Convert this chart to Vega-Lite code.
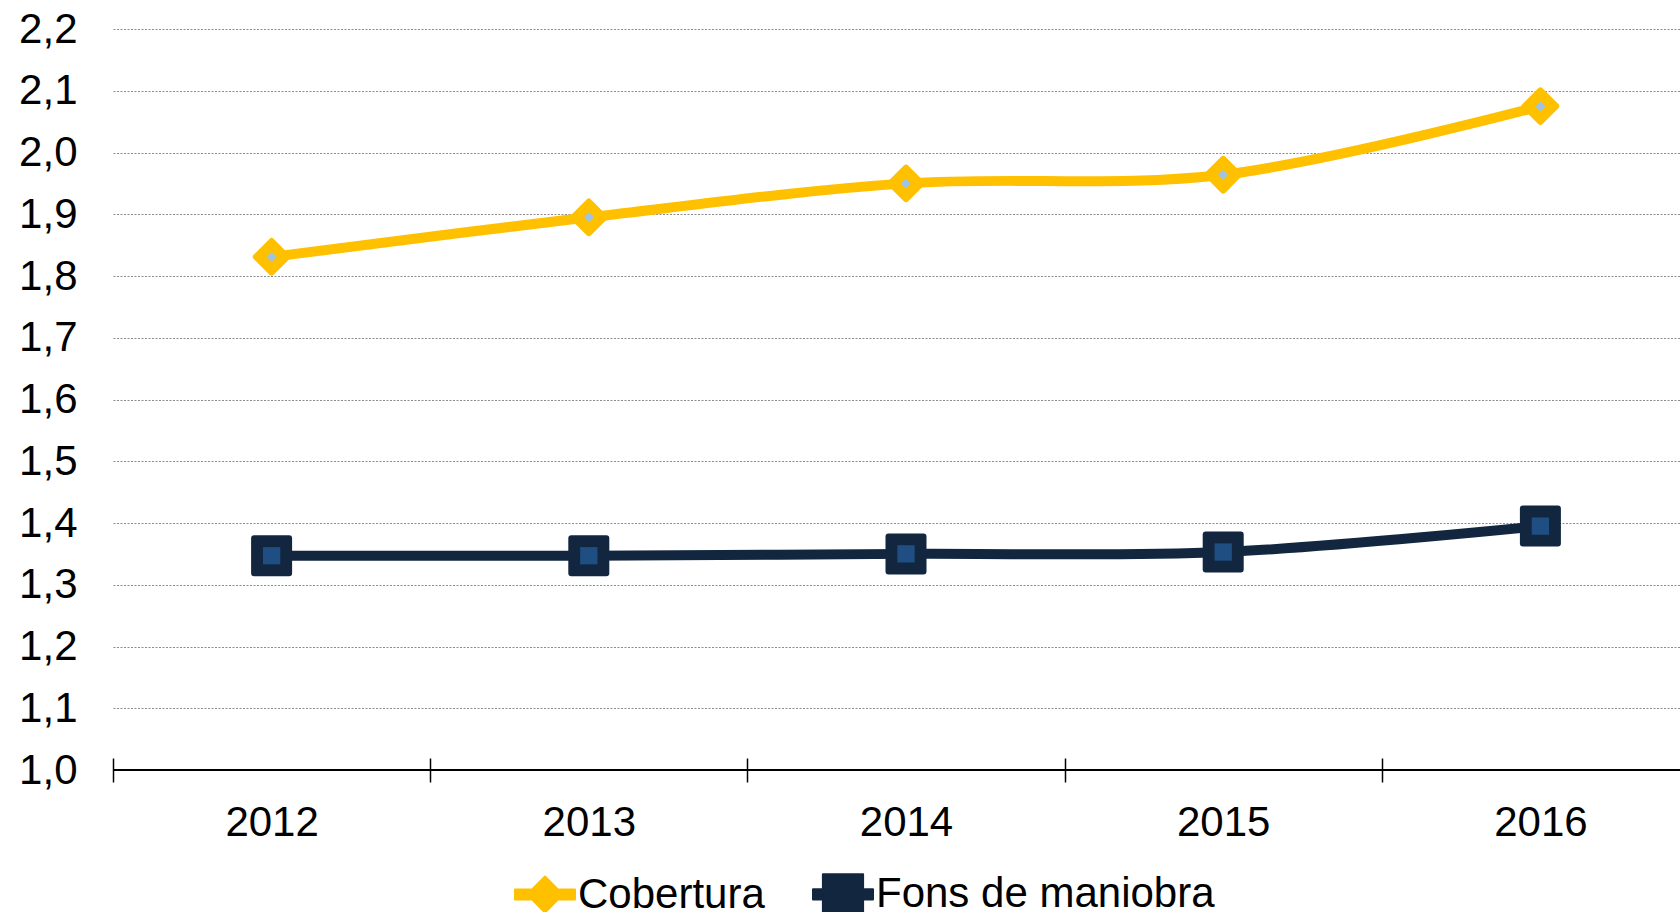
{
  "$schema": "https://vega.github.io/schema/vega-lite/v6.json",
  "autosize": {"type": "none"},
  "padding": {"left": 113, "top": 29, "right": 0, "bottom": 142},
  "width": 1567,
  "height": 741,
  "background": "white",
  "config": {
    "view": {"stroke": null},
    "font": "Liberation Sans",
    "axis": {"labelFont": "Liberation Sans", "labelColor": "black", "labelFontSize": 42},
    "legend": {"labelFont": "Liberation Sans", "labelColor": "black", "labelFontSize": 42}
  },
  "data": {
    "values": [
      {"year": "2012", "series": "Cobertura", "value": 1.831},
      {"year": "2013", "series": "Cobertura", "value": 1.895},
      {"year": "2014", "series": "Cobertura", "value": 1.950},
      {"year": "2015", "series": "Cobertura", "value": 1.964},
      {"year": "2016", "series": "Cobertura", "value": 2.075},
      {"year": "2012", "series": "Fons de maniobra", "value": 1.347},
      {"year": "2013", "series": "Fons de maniobra", "value": 1.347},
      {"year": "2014", "series": "Fons de maniobra", "value": 1.350},
      {"year": "2015", "series": "Fons de maniobra", "value": 1.353},
      {"year": "2016", "series": "Fons de maniobra", "value": 1.395}
    ]
  },
  "encoding": {
    "x": {
      "field": "year", "type": "ordinal",
      "scale": {"type": "band", "range": [0, 1586], "paddingInner": 0, "paddingOuter": 0},
      "axis": {
        "title": null, "domain": false, "offset": -12, "tickSize": 24, "tickColor": "black",
        "tickWidth": 1.5, "tickBand": "extent", "labelPadding": 20, "labelAngle": 0, "grid": false
      }
    },
    "y": {
      "field": "value", "type": "quantitative",
      "scale": {"domain": [1.0, 2.2], "nice": false, "zero": false},
      "axis": {
        "title": null, "domain": false, "ticks": false, "labelPadding": 36,
        "values": [1.0, 1.1, 1.2, 1.3, 1.4, 1.5, 1.6, 1.7, 1.8, 1.9, 2.0, 2.1, 2.2],
        "labelExpr": "replace(format(datum.value, '.1f'), '.', ',')",
        "grid": true, "gridColor": "#8c8c8c", "gridDash": [2, 1.5], "gridWidth": 1.2
      }
    }
  },
  "layer": [
    {
      "mark": {"type": "rule", "color": "black", "strokeWidth": 2},
      "encoding": {"y": {"datum": 1.0}, "x": {"value": 0}, "x2": {"value": 1567}}
    },
    {
      "mark": {"type": "line", "strokeWidth": 10, "interpolate": "catmull-rom", "strokeCap": "round"},
      "encoding": {
        "color": {
          "field": "series", "type": "nominal",
          "scale": {"domain": ["Cobertura", "Fons de maniobra"], "range": ["#FFC000", "#12263F"]},
          "legend": {
            "title": null, "orient": "none", "direction": "horizontal",
            "legendX": 401, "legendY": 834, "padding": 0, "labelLimit": 0,
            "symbolSize": 3600, "labelOffset": 2, "columnPadding": 47,
            "encode": {
              "symbols": {
                "update": {
                  "shape": {"signal": "datum.value === 'Cobertura' ? 'M-1,-0.17H-0.43L0,-0.6L0.43,-0.17H1V0.17H0.43L0,0.6L-0.43,0.17H-1Z' : 'M-1,-0.17H-0.67V-0.67H0.67V-0.17H1V0.17H0.67V0.67H-0.67V0.17H-1Z'"},
                  "fill": {"signal": "datum.value === 'Cobertura' ? '#FFC000' : '#12263F'"},
                  "stroke": {"signal": "datum.value === 'Cobertura' ? '#FFC000' : '#12263F'"},
                  "strokeWidth": {"value": 2},
                  "strokeJoin": {"value": "round"}
                }
              }
            }
          }
        }
      }
    },
    {
      "transform": [{"filter": "datum.series === 'Cobertura'"}],
      "mark": {"type": "point", "shape": "diamond", "size": 1000, "filled": true, "opacity": 1, "fill": "#FFC000", "stroke": "#FFC000", "strokeWidth": 6, "strokeJoin": "round"}
    },
    {
      "transform": [{"filter": "datum.series === 'Cobertura'"}],
      "mark": {"type": "point", "shape": "diamond", "size": 100, "filled": true, "opacity": 1, "fill": "#9DC3E6", "strokeWidth": 0}
    },
    {
      "transform": [{"filter": "datum.series === 'Fons de maniobra'"}],
      "mark": {"type": "point", "shape": "square", "size": 1225, "filled": true, "opacity": 1, "fill": "#12263F", "stroke": "#12263F", "strokeWidth": 6, "strokeJoin": "round"}
    },
    {
      "transform": [{"filter": "datum.series === 'Fons de maniobra'"}],
      "mark": {"type": "point", "shape": "square", "size": 300, "filled": true, "opacity": 1, "fill": "#1F4E82", "strokeWidth": 0}
    }
  ]
}
